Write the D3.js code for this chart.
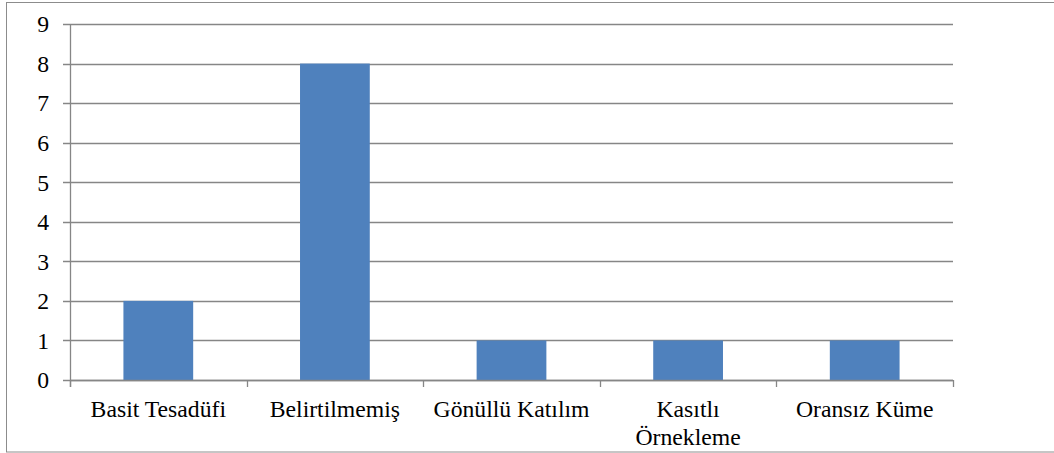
<!DOCTYPE html>
<html>
<head>
<meta charset="utf-8">
<script src="https://cdn.jsdelivr.net/npm/d3@7"></script>
<style>
  html, body { margin: 0; padding: 0; background: #fff; }
  svg { display: block; }
  svg text { font-family: "Liberation Serif", "Times New Roman", Times, "DejaVu Serif", serif; }
</style>
</head>
<body>
<svg id="chart" width="1054" height="453"></svg>
<script>
// Sampling methods and how many studies used each
const categories = ["Basit Tesadüfi", "Belirtilmemiş", "Gönüllü Katılım", "Kasıtlı Örnekleme", "Oransız Küme"];
const counts = [2, 8, 1, 1, 1];
const yTicks = [0, 1, 2, 3, 4, 5, 6, 7, 8, 9];

const W = 1054, H = 453;
const margin = { left: 70, right: 101, top: 24, bottom: 73 };
const gridColor = "#868686";
const barColor = "#4F81BD";
const fontSize = 23.7;

const svg = d3.select("#chart");

// outer frame
svg.append("rect")
  .attr("x", 6.5).attr("y", 2.5)
  .attr("width", W - 6).attr("height", H - 3.5)
  .attr("fill", "none").attr("stroke", "#8c8c8c").attr("stroke-width", 1);

const x = d3.scaleBand()
  .domain(categories)
  .range([margin.left, W - margin.right])
  .paddingInner(0.605)
  .paddingOuter(0.3025);

const y = d3.scaleLinear()
  .domain([0, 9])
  .range([H - margin.bottom, margin.top]);

const x0 = margin.left, x1 = W - margin.right;

// horizontal gridlines, extended left as tick marks
svg.append("g")
  .selectAll("line")
  .data(yTicks)
  .join("line")
  .attr("x1", x0 - 7).attr("x2", x1)
  .attr("y1", d => Math.round(y(d)) + 0.5)
  .attr("y2", d => Math.round(y(d)) + 0.5)
  .attr("stroke", gridColor).attr("stroke-width", 1.3);

// y axis labels
svg.append("g")
  .selectAll("text")
  .data(yTicks)
  .join("text")
  .attr("x", 49)
  .attr("y", d => y(d))
  .attr("dy", "0.35em")
  .attr("text-anchor", "end")
  .attr("font-size", fontSize)
  .attr("fill", "#000")
  .text(d => d);

// bars
svg.append("g")
  .selectAll("rect")
  .data(counts)
  .join("rect")
  .attr("x", (d, i) => x(categories[i]))
  .attr("width", x.bandwidth())
  .attr("y", d => y(d))
  .attr("height", d => y(0) - y(d))
  .attr("fill", barColor);

// vertical axis line
svg.append("line")
  .attr("x1", x0 + 0.5).attr("x2", x0 + 0.5)
  .attr("y1", y(9)).attr("y2", y(0) + 7)
  .attr("stroke", gridColor).attr("stroke-width", 1.3);

// horizontal axis line
svg.append("line")
  .attr("x1", x0).attr("x2", x1)
  .attr("y1", Math.round(y(0)) + 0.5).attr("y2", Math.round(y(0)) + 0.5)
  .attr("stroke", gridColor).attr("stroke-width", 1.3);

// category boundary ticks
const boundaries = categories.map(c => x(c) - x.step() * x.paddingInner() / 2);
boundaries.push(x1);
svg.append("g")
  .selectAll("line")
  .data(boundaries)
  .join("line")
  .attr("x1", d => Math.round(d) + 0.5).attr("x2", d => Math.round(d) + 0.5)
  .attr("y1", y(0)).attr("y2", y(0) + 7)
  .attr("stroke", gridColor).attr("stroke-width", 1.3);

// category labels with word wrapping
const labels = svg.append("g")
  .selectAll("text")
  .data(categories)
  .join("text")
  .attr("x", d => x(d) + x.bandwidth() / 2)
  .attr("y", 417)
  .attr("text-anchor", "middle")
  .attr("font-size", fontSize)
  .attr("fill", "#000");

labels.each(function(d) {
  const el = d3.select(this);
  const words = d.split(" ");
  const maxW = 165;
  let lines = [], cur = [];
  const probe = el.append("tspan");
  words.forEach(w => {
    const test = cur.concat([w]).join(" ");
    probe.text(test);
    if (probe.node().getComputedTextLength() > maxW && cur.length) {
      lines.push(cur.join(" "));
      cur = [w];
    } else {
      cur.push(w);
    }
  });
  lines.push(cur.join(" "));
  probe.remove();
  const cx = el.attr("x");
  lines.forEach((ln, i) => {
    el.append("tspan")
      .attr("x", cx)
      .attr("dy", i === 0 ? 0 : 27.5)
      .text(ln);
  });
});
</script>
</body>
</html>
